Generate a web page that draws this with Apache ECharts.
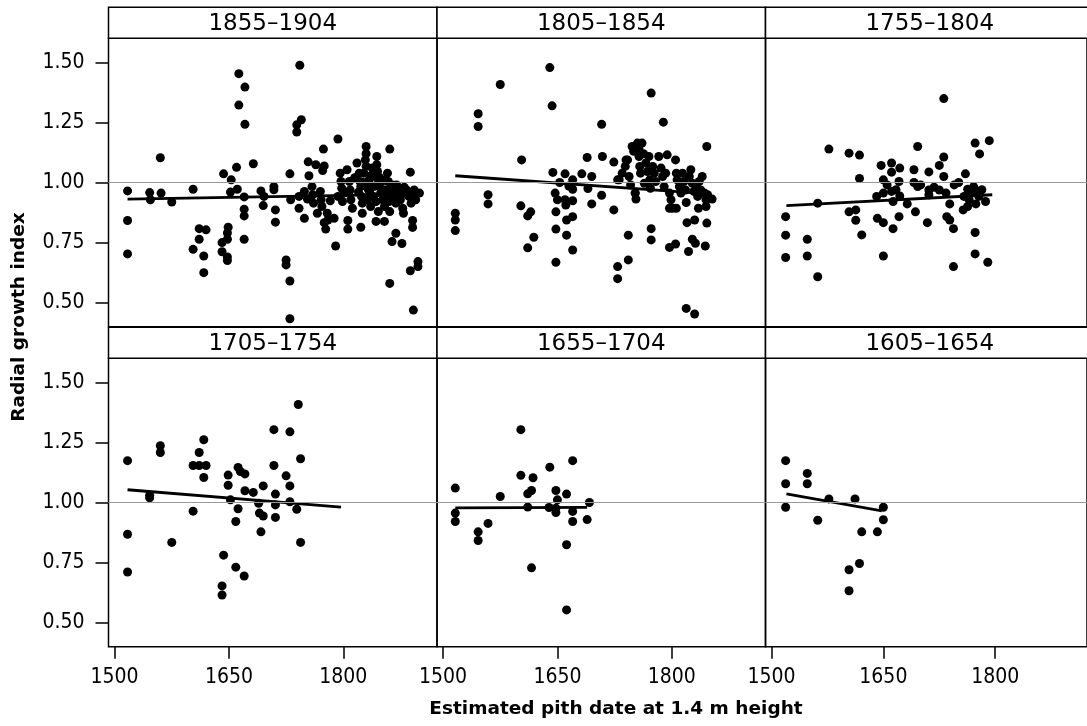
<!DOCTYPE html>
<html>
<head>
<meta charset="utf-8">
<script src="https://cdn.jsdelivr.net/npm/echarts@6.0.0/dist/echarts.min.js"></script>
<style>
  html, body { margin: 0; padding: 0; background: #fff; }
  #chart { width: 1087px; height: 726px; }
</style>
</head>
<body>
<div id="chart"></div>
<script>
// panel titles (pith-date classes) and axis ticks
const panelTitles = ['1855–1904', '1805–1854', '1755–1804', '1705–1754', '1655–1704', '1605–1654'];
const xTicks = [1500, 1650, 1800];
const yTicks = [0.5, 0.75, 1.0, 1.25, 1.5];

// [estimated pith date, radial growth index]
const pts1855 = [
  [1517,0.965],[1517,0.842],[1517,0.703],[1546,0.958],[1547,0.928],[1560,1.103],[1561,0.956],[1575,0.919],[1603,0.972],
  [1611,0.808],[1620,0.803],[1611,0.764],[1603,0.722],[1617,0.694],[1617,0.625],
  [1643,1.036],[1653,1.011],[1660,1.063],[1652,0.96],[1661,0.972],[1670,0.94],[1670,0.889],[1670,0.861],[1670,0.764],
  [1649,0.814],[1648,0.764],[1641,0.75],[1641,0.712],[1648,0.675],[1648,0.69],[1648,0.79],
  [1663,1.453],[1671,1.397],[1663,1.322],[1671,1.242],
  [1682,1.078],[1692,0.965],[1696,0.942],[1695,0.904],[1709,0.983],[1709,0.97],[1711,0.886],[1711,0.835],[1730,1.036],
  [1725,0.678],[1725,0.657],[1730,0.59],[1730,0.433],[1743,1.488],[1745,1.261],[1739,1.24],[1739,1.21],
  [1731,0.928],[1742,0.942],[1742,0.893],[1749,0.851],[1754,1.086],[1764,1.074],[1755,1.028],[1774,1.139],[1793,1.181],
  [1790,0.736],[1777,0.806],[1775,0.833],[1780,0.844],[1806,0.842],[1806,0.806],[1823,0.814],[1830,1.15],[1830,1.12],
  [1844,1.108],[1844,1.074],[1861,1.139],[1843,0.838],[1854,0.838],[1888,1.043],[1861,0.58],[1864,0.754],[1877,0.746],
  [1869,0.789],[1891,0.842],[1891,0.813],[1888,0.633],[1898,0.671],[1898,0.65],[1892,0.469],[1893,0.969],[1900,0.956],
  [1749,0.963],[1753,0.931],[1759,0.983],[1760,0.949],[1761,0.914],[1766,0.872],[1770,0.963],[1771,0.928],[1772,0.9],
  [1773,1.05],[1775,1.069],[1779,0.872],[1783,0.924],[1788,0.851],[1793,0.942],[1796,1.039],[1797,1.004],[1798,0.976],
  [1799,0.921],[1801,0.956],[1805,1.053],[1808,1.004],[1809,0.969],[1810,0.928],[1812,0.893],[1818,1.081],[1821,1.039],
  [1822,1.004],[1823,0.983],[1824,0.942],[1825,0.914],[1825,0.872],[1827,1.039],[1829,1.094],[1830,1.067],[1831,0.99],
  [1832,0.928],[1834,1.011],[1835,0.956],[1836,0.9],[1838,1.06],[1840,0.983],[1840,0.942],[1842,1.025],[1843,0.921],
  [1845,1.046],[1846,0.879],[1847,0.983],[1849,0.956],[1850,1.004],[1852,0.928],[1854,0.9],[1856,0.969],[1857,0.942],
  [1858,1.039],[1859,1.004],[1860,0.921],[1861,0.879],[1862,0.963],[1865,0.99],[1867,0.942],[1869,0.914],[1871,0.969],
  [1873,0.956],[1875,0.928],[1878,0.893],[1879,0.872],[1881,0.956],[1883,0.969],[1886,0.942],[1889,0.914],[1893,0.958],
  [1895,0.928],[1815,1.02],[1820,0.96],[1826,1.0],[1833,0.97],[1837,1.03],[1844,0.99],[1848,1.02],[1852,0.97],
  [1855,1.01],[1863,0.98],[1866,0.96],[1870,0.99],[1874,0.97],[1880,0.98]
];
const pts1805 = [
  [1516,0.872],[1516,0.844],[1516,0.8],[1546,1.286],[1546,1.233],[1559,0.949],[1559,0.911],[1575,1.408],[1603,1.094],
  [1602,0.903],[1611,0.861],[1615,0.878],[1619,0.772],[1611,0.728],[1640,1.478],[1643,1.319],
  [1644,1.042],[1660,1.036],[1647,0.956],[1650,0.928],[1660,0.928],[1661,0.906],[1670,0.924],[1670,1.011],[1670,0.972],
  [1682,1.036],[1690,0.975],[1695,1.025],[1695,0.911],[1689,1.104],[1709,1.108],[1708,1.242],[1708,0.947],[1724,1.085],
  [1724,0.886],[1729,1.011],[1740,1.094],[1743,0.781],[1743,0.678],[1729,0.65],[1729,0.6],[1648,0.878],[1648,0.806],
  [1648,0.668],[1662,0.844],[1662,0.781],[1670,0.858],[1670,0.719],[1653,1.0],[1665,0.985],
  [1748,1.15],[1755,1.164],[1761,1.164],[1773,1.372],[1789,1.251],[1846,1.15],[1773,0.808],[1773,0.761],[1797,0.73],
  [1805,0.744],[1822,0.713],[1827,0.764],[1831,0.747],[1844,0.736],[1820,0.833],[1830,0.844],[1846,0.831],[1819,0.476],
  [1830,0.453],[1753,0.931],[1752,0.956],[1797,0.893],[1806,0.893],[1819,0.917],[1835,0.893],[1845,0.9],[1853,0.931],
  [1731,1.011],[1735,1.039],[1739,1.067],[1742,1.094],[1744,1.025],[1746,0.99],[1750,1.13],[1752,0.956],[1757,1.14],
  [1757,1.108],[1758,1.067],[1759,1.039],[1763,1.12],[1764,0.997],[1766,1.081],[1768,1.046],[1770,1.108],[1771,1.011],
  [1772,0.976],[1775,1.067],[1777,1.039],[1779,1.004],[1783,1.108],[1786,1.06],[1788,1.025],[1790,0.983],[1792,1.039],
  [1794,1.115],[1797,0.956],[1799,0.928],[1801,0.893],[1805,1.094],[1806,1.039],[1807,1.011],[1810,0.983],[1812,0.956],
  [1814,1.039],[1816,1.004],[1818,0.969],[1823,1.025],[1825,1.053],[1827,0.997],[1829,0.963],[1832,0.983],[1834,0.942],
  [1836,1.004],[1838,0.969],[1840,1.025],[1843,0.956],[1845,0.928],[1847,0.949]
];
const pts1755 = [
  [1519,0.858],[1519,0.781],[1519,0.688],[1548,0.764],[1548,0.694],[1562,0.914],[1562,0.608],[1577,1.139],[1604,1.122],
  [1618,1.114],[1618,1.017],[1604,0.878],[1613,0.886],[1613,0.843],[1621,0.782],[1642,0.851],[1650,0.833],[1650,0.694],
  [1663,0.808],[1671,0.858],[1647,1.071],[1661,1.081],[1672,1.06],[1650,1.011],[1661,1.043],[1671,1.004],[1661,0.963],
  [1650,0.956],[1641,0.942],[1663,0.921],[1672,0.944],[1682,0.911],[1691,1.053],[1691,1.0],[1696,0.983],[1693,0.878],
  [1696,1.15],[1709,0.833],[1711,1.044],[1711,0.969],[1711,0.949],[1725,1.071],[1731,1.106],[1731,1.025],[1731,1.349],
  [1725,0.969],[1734,0.956],[1739,0.911],[1735,0.858],[1739,0.844],[1744,0.808],[1744,0.65],[1760,1.036],[1751,1.0],
  [1763,0.972],[1758,0.942],[1767,0.956],[1771,0.983],[1776,0.963],[1765,0.928],[1757,0.886],[1763,0.9],[1774,0.911],
  [1787,0.921],[1778,0.942],[1773,1.164],[1792,1.174],[1779,1.119],[1773,0.792],[1773,0.703],[1790,0.668],
  [1655,0.99],[1667,0.97],[1700,0.99],[1718,0.98],[1745,0.99],[1782,0.97]
];
const pts1705 = [
  [1517,1.174],[1517,0.868],[1517,0.711],[1546,1.03],[1546,1.02],[1560,1.236],[1560,1.208],[1575,0.834],[1603,0.964],
  [1611,1.208],[1603,1.154],[1611,1.154],[1620,1.154],[1617,1.261],[1617,1.104],[1643,0.781],[1641,0.653],[1641,0.615],
  [1659,0.731],[1670,0.694],[1649,1.114],[1649,1.072],[1662,1.146],[1665,1.129],[1671,1.119],[1652,1.011],[1662,0.974],
  [1659,0.921],[1671,1.049],[1682,1.042],[1695,1.069],[1689,0.997],[1690,0.956],[1695,0.944],[1692,0.878],[1709,1.303],
  [1709,1.154],[1711,1.035],[1711,0.99],[1711,0.938],[1725,1.111],[1730,1.294],[1730,1.069],[1730,1.003],[1739,0.972],
  [1741,1.408],[1744,1.182],[1744,0.834]
];
const pts1655 = [
  [1516,1.06],[1516,0.956],[1516,0.921],[1546,0.878],[1546,0.842],[1559,0.913],[1575,1.025],[1602,1.303],[1602,1.113],
  [1618,1.103],[1611,1.036],[1616,1.05],[1611,0.981],[1616,0.728],[1640,1.147],[1648,1.05],[1650,1.011],[1639,0.979],
  [1648,0.976],[1648,0.958],[1662,1.035],[1670,1.174],[1670,0.963],[1670,0.921],[1662,0.824],[1662,0.553],[1689,0.929],
  [1692,1.0]
];
const pts1605 = [
  [1519,1.174],[1519,1.078],[1519,0.98],[1548,1.121],[1548,1.078],[1562,0.926],[1577,1.015],[1612,1.015],[1621,0.878],
  [1642,0.878],[1650,0.98],[1650,0.928],[1618,0.746],[1604,0.72],[1604,0.633]
];

// fitted trend line end points for each panel
const fit1855 = [[1517,0.931],[1900,0.952]];
const fit1805 = [[1516,1.028],[1849,0.953]];
const fit1755 = [[1520,0.904],[1796,0.949]];
const fit1705 = [[1517,1.053],[1797,0.981]];
const fit1655 = [[1516,0.978],[1689,0.980]];
const fit1605 = [[1520,1.036],[1648,0.965]];

const panelPts = [pts1855, pts1805, pts1755, pts1705, pts1655, pts1605];
const panelFits = [fit1855, fit1805, fit1755, fit1705, fit1655, fit1605];

// layout
const colLeft = [108.5, 437, 765.5];
const colW = 328.5;
const rowTop = [38.3, 358.3];
const rowH = 288.4;
const stripH = 31;

const tickFont = '"Liberation Sans Narrow", "DejaVu Sans Condensed", sans-serif';

const grids = [], xAxes = [], yAxes = [], series = [], graphics = [];

panelTitles.forEach(function (title, i) {
  const col = i % 3, row = Math.floor(i / 3);
  const left = colLeft[col], top = rowTop[row];
  const isBottom = row === 1, isLeft = col === 0;

  grids.push({
    left: left, top: top, width: colW, height: rowH,
    show: true, borderColor: '#000', borderWidth: 1.5, backgroundColor: 'transparent'
  });

  xAxes.push({
    type: 'value', gridIndex: i, min: 1492, max: 1923,
    axisLine: { show: false },
    splitLine: { show: false },
    axisTick: {
      show: isBottom, customValues: xTicks, length: 12,
      lineStyle: { color: '#000', width: 1.5 }
    },
    axisLabel: {
      show: isBottom, customValues: xTicks, margin: 20,
      color: '#000', fontSize: 21, fontFamily: tickFont,
      formatter: function (v) { return String(v); }
    }
  });

  yAxes.push({
    type: 'value', gridIndex: i, min: 0.4, max: 1.6,
    axisLine: { show: false },
    splitLine: { show: false },
    axisTick: {
      show: isLeft, customValues: yTicks, length: 13,
      lineStyle: { color: '#000', width: 1.5 }
    },
    axisLabel: {
      show: isLeft, customValues: yTicks, margin: 24,
      color: '#000', fontSize: 21, fontFamily: tickFont,
      formatter: function (v) { return v.toFixed(2); }
    }
  });

  series.push({
    type: 'scatter', xAxisIndex: i, yAxisIndex: i,
    data: panelPts[i], symbol: 'circle', symbolSize: 9,
    itemStyle: { color: '#000', opacity: 1 },
    markLine: {
      silent: true, symbol: 'none', label: { show: false },
      lineStyle: { color: '#999', width: 1, type: 'solid' },
      data: [{ yAxis: 1 }]
    },
    z: 3
  });

  series.push({
    type: 'line', xAxisIndex: i, yAxisIndex: i,
    data: panelFits[i], symbol: 'none',
    lineStyle: { color: '#000', width: 2.8 },
    z: 4
  });

  // header strip
  graphics.push({
    type: 'rect',
    shape: { x: left, y: top - stripH, width: colW, height: stripH },
    style: { fill: '#fff', stroke: '#000', lineWidth: 1.5 }
  });
  graphics.push({
    type: 'text', x: left + colW / 2, y: top - stripH / 2 + 1,
    style: {
      text: title, fill: '#000', fontSize: 23, fontFamily: '"DejaVu Sans", sans-serif',
      textAlign: 'center', textVerticalAlign: 'middle'
    }
  });
});

graphics.push({
  type: 'text', x: 616, y: 709,
  style: {
    text: 'Estimated pith date at 1.4 m height', fill: '#000',
    fontSize: 18.5, fontWeight: 'bold', fontFamily: '"DejaVu Sans", sans-serif',
    textAlign: 'center', textVerticalAlign: 'middle'
  }
});
graphics.push({
  type: 'text', x: 19, y: 317, rotation: Math.PI / 2,
  style: {
    text: 'Radial growth index', fill: '#000',
    fontSize: 18.5, fontWeight: 'bold', fontFamily: '"DejaVu Sans", sans-serif',
    textAlign: 'center', textVerticalAlign: 'middle'
  }
});

const chart = echarts.init(document.getElementById('chart'), null, { renderer: 'canvas' });
chart.setOption({
  animation: false,
  backgroundColor: '#fff',
  grid: grids,
  xAxis: xAxes,
  yAxis: yAxes,
  series: series,
  graphic: graphics
});
</script>
</body>
</html>
